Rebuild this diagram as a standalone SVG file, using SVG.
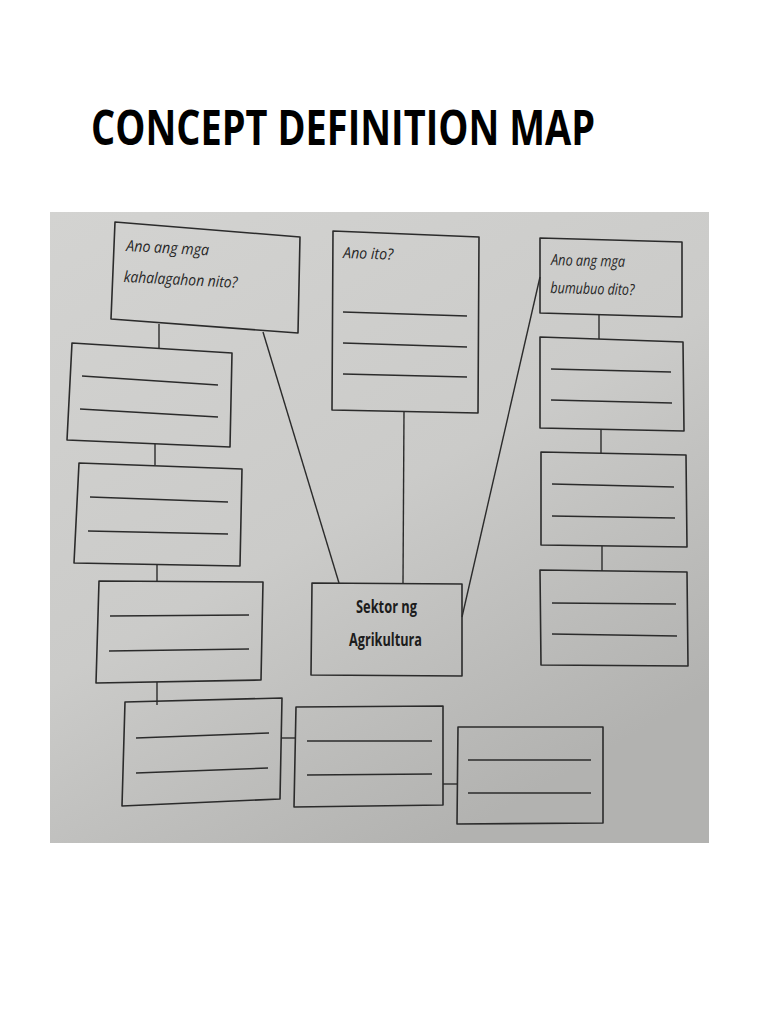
<svg xmlns="http://www.w3.org/2000/svg" width="768" height="1024" viewBox="0 0 768 1024">
<defs>
<linearGradient id="paper" x1="0" y1="0" x2="0.6" y2="1">
<stop offset="0" stop-color="#d3d3d1"/>
<stop offset="0.55" stop-color="#cbcbc9"/>
<stop offset="1" stop-color="#b2b2b0"/>
</linearGradient>
<style>
.box{fill:none;stroke:#2b2b2b;stroke-width:1.6;stroke-linejoin:round}
.rule{stroke:#2b2b2b;stroke-width:1.5}
.conn{stroke:#2b2b2b;stroke-width:1.4;fill:none}
.q{font-family:"Open Sans","DejaVu Sans",sans-serif;font-style:italic;font-size:15.5px;fill:#262626}
.s{font-family:"Open Sans","Liberation Sans",sans-serif;font-weight:bold;font-size:18px;fill:#1c1c1c}
.title{font-family:"Open Sans","Liberation Sans",sans-serif;font-weight:bold;font-size:49px;fill:#000}
</style>
</defs>
<rect width="768" height="1024" fill="#ffffff"/>
<text class="title" x="91" y="145" textLength="504" lengthAdjust="spacingAndGlyphs">CONCEPT DEFINITION MAP</text>
<rect x="50" y="212" width="659" height="631" fill="url(#paper)"/>

<g id="connectors">
<line class="conn" x1="159" y1="324" x2="159" y2="348"/>
<line class="conn" x1="155" y1="444" x2="155" y2="465"/>
<line class="conn" x1="157" y1="565" x2="157" y2="581"/>
<line class="conn" x1="157" y1="682" x2="157" y2="705"/>
<line class="conn" x1="281" y1="738" x2="295" y2="738"/>
<line class="conn" x1="443" y1="784" x2="457" y2="784"/>
<line class="conn" x1="263" y1="332" x2="339" y2="583"/>
<line class="conn" x1="404" y1="411" x2="403" y2="583"/>
<line class="conn" x1="540" y1="277" x2="462" y2="617"/>
<line class="conn" x1="599" y1="315" x2="599" y2="339"/>
<line class="conn" x1="601" y1="430" x2="601" y2="453"/>
<line class="conn" x1="602" y1="546" x2="602" y2="571"/>
</g>

<g id="node-kahalagahan">
<polygon class="box" points="115,222 300,237 298,333 111,319"/>
<g transform="rotate(3 126 251)">
<text class="q" x="126" y="251" textLength="83" lengthAdjust="spacingAndGlyphs">Ano ang mga</text>
<text class="q" x="125" y="282" textLength="114" lengthAdjust="spacingAndGlyphs">kahalagahon nito?</text>
</g>
</g>

<g id="node-ano-ito">
<polygon class="box" points="333,231 479,237 478,413 332,410"/>
<text class="q" x="343" y="258" textLength="50" lengthAdjust="spacingAndGlyphs" transform="rotate(2 343 258)">Ano ito?</text>
<line class="rule" x1="343" y1="312" x2="467" y2="316"/>
<line class="rule" x1="343" y1="343" x2="467" y2="347"/>
<line class="rule" x1="343" y1="374" x2="467" y2="377"/>
</g>

<g id="node-bumubuo">
<polygon class="box" points="540,238 682,242 682,317 540,313"/>
<g transform="rotate(1.5 551 265)">
<text class="q" x="551" y="265" textLength="74" lengthAdjust="spacingAndGlyphs">Ano ang mga</text>
<text class="q" x="551" y="293" textLength="84" lengthAdjust="spacingAndGlyphs">bumubuo dito?</text>
</g>
</g>

<g id="node-sektor">
<polygon class="box" points="312,583 462,584 462,676 311,675"/>
<text class="s" x="356" y="613" textLength="61" lengthAdjust="spacingAndGlyphs">Sektor ng</text>
<text class="s" x="349" y="646" textLength="73" lengthAdjust="spacingAndGlyphs">Agrikultura</text>
</g>

<g id="node-left-1">
<polygon class="box" points="72,343 232,353 230,447 67,440"/>
<line class="rule" x1="82" y1="376" x2="218" y2="385"/>
<line class="rule" x1="80" y1="409" x2="218" y2="417"/>
</g>

<g id="node-left-2">
<polygon class="box" points="79,463 242,469 240,566 74,563"/>
<line class="rule" x1="90" y1="497" x2="228" y2="502"/>
<line class="rule" x1="88" y1="531" x2="228" y2="534"/>
</g>

<g id="node-left-3">
<polygon class="box" points="99,581 263,582 261,680 96,683"/>
<line class="rule" x1="110" y1="616" x2="249" y2="615"/>
<line class="rule" x1="109" y1="651" x2="249" y2="649"/>
</g>

<g id="node-bottom-1">
<polygon class="box" points="125,702 282,698 280,799 122,806"/>
<line class="rule" x1="136" y1="738" x2="269" y2="733"/>
<line class="rule" x1="136" y1="773" x2="268" y2="768"/>
</g>

<g id="node-bottom-2">
<polygon class="box" points="296,707 443,706 443,805 294,807"/>
<line class="rule" x1="307" y1="741" x2="432" y2="741"/>
<line class="rule" x1="307" y1="775" x2="432" y2="774"/>
</g>

<g id="node-bottom-3">
<polygon class="box" points="458,727 603,727 603,823 457,824"/>
<line class="rule" x1="468" y1="760" x2="591" y2="760"/>
<line class="rule" x1="468" y1="793" x2="591" y2="793"/>
</g>

<g id="node-right-1">
<polygon class="box" points="540,337 683,342 684,431 540,428"/>
<line class="rule" x1="551" y1="369" x2="671" y2="372"/>
<line class="rule" x1="551" y1="400" x2="672" y2="403"/>
</g>

<g id="node-right-2">
<polygon class="box" points="541,452 686,455 687,547 541,545"/>
<line class="rule" x1="552" y1="484" x2="674" y2="487"/>
<line class="rule" x1="552" y1="516" x2="675" y2="518"/>
</g>

<g id="node-right-3">
<polygon class="box" points="540,570 687,572 688,666 541,665"/>
<line class="rule" x1="552" y1="603" x2="676" y2="604"/>
<line class="rule" x1="552" y1="634" x2="677" y2="636"/>
</g>
</svg>
